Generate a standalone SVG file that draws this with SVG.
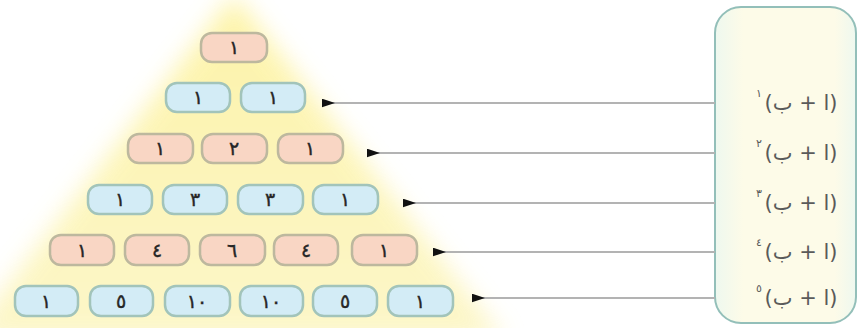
<svg xmlns="http://www.w3.org/2000/svg" width="859" height="328" viewBox="0 0 859 328">
  <style>
    .pill { stroke-width: 2.5; }
    .odd { fill: #f9d6c4; stroke: #bdb89e; }
    .even { fill: #d3ecf6; stroke: #a2c4ba; }
    .num { font-family: "DejaVu Sans", sans-serif; font-size: 19px; fill: #262626; text-anchor: middle; stroke: #262626; stroke-width: 0.4; }
    .lbl { font-family: "DejaVu Sans", sans-serif; font-size: 21px; fill: #5a5a5a; text-anchor: middle; letter-spacing: 1px; }
    .sup { font-family: "DejaVu Sans", sans-serif; font-size: 11px; fill: #5a5a5a; text-anchor: middle; }
    .conn { stroke: #b3b3b3; stroke-width: 2; fill: none; marker-end: url(#head); }
  </style>
  <defs>
    <marker id="head" viewBox="0 0 12 8" refX="12" refY="4" markerWidth="13" markerHeight="9" markerUnits="userSpaceOnUse" orient="auto">
      <path d="M0,4 L12,0 L12,8 Z" fill="#111"/>
    </marker>
    <linearGradient id="glow" x1="0" y1="0" x2="0" y2="1">
      <stop offset="0" stop-color="#fdf29a"/>
      <stop offset="1" stop-color="#fcf5c0"/>
    </linearGradient>
    <filter id="soft" x="-20%" y="-20%" width="140%" height="140%">
      <feGaussianBlur stdDeviation="12"/>
    </filter>
    <linearGradient id="boxfill" x1="0" y1="0" x2="1" y2="0">
      <stop offset="0" stop-color="#eef8ef"/>
      <stop offset="0.2" stop-color="#fdfbe8"/>
      <stop offset="0.85" stop-color="#fdfbe8"/>
      <stop offset="1" stop-color="#eef8ef"/>
    </linearGradient>
  </defs>

  <rect width="859" height="328" fill="#ffffff"/>

  <!-- soft yellow triangle behind the rows -->
  <polygon points="234,-5 505,340 -35,340" fill="url(#glow)" opacity="0.85" filter="url(#soft)"/>

  <!-- row 0 -->
  <g id="r0c0"><rect class="pill odd" x="201" y="33" width="66" height="29" rx="11"/><text class="num" x="234" y="54">١</text></g>

  <!-- row 1 -->
  <g id="r1c0"><rect class="pill even" x="166" y="83" width="64" height="29" rx="11"/><text class="num" x="198" y="104">١</text></g>
  <g id="r1c1"><rect class="pill even" x="241" y="83" width="64" height="29" rx="11"/><text class="num" x="273" y="104">١</text></g>

  <!-- row 2 -->
  <g id="r2c0"><rect class="pill odd" x="128" y="134" width="65" height="29" rx="11"/><text class="num" x="160" y="155">١</text></g>
  <g id="r2c1"><rect class="pill odd" x="202" y="134" width="65" height="29" rx="11"/><text class="num" x="234" y="155">٢</text></g>
  <g id="r2c2"><rect class="pill odd" x="278" y="134" width="65" height="29" rx="11"/><text class="num" x="310" y="155">١</text></g>

  <!-- row 3 -->
  <g id="r3c0"><rect class="pill even" x="88" y="185" width="64" height="29" rx="11"/><text class="num" x="120" y="206">١</text></g>
  <g id="r3c1"><rect class="pill even" x="163" y="185" width="64" height="29" rx="11"/><text class="num" x="195" y="206">٣</text></g>
  <g id="r3c2"><rect class="pill even" x="238" y="185" width="65" height="29" rx="11"/><text class="num" x="270" y="206">٣</text></g>
  <g id="r3c3"><rect class="pill even" x="313" y="185" width="65" height="29" rx="11"/><text class="num" x="345" y="206">١</text></g>

  <!-- row 4 -->
  <g id="r4c0"><rect class="pill odd" x="50" y="235" width="64" height="30" rx="11"/><text class="num" x="82" y="257">١</text></g>
  <g id="r4c1"><rect class="pill odd" x="125" y="235" width="64" height="30" rx="11"/><text class="num" x="157" y="257">٤</text></g>
  <g id="r4c2"><rect class="pill odd" x="200" y="235" width="65" height="30" rx="11"/><text class="num" x="232" y="257">٦</text></g>
  <g id="r4c3"><rect class="pill odd" x="274" y="235" width="64" height="30" rx="11"/><text class="num" x="306" y="257">٤</text></g>
  <g id="r4c4"><rect class="pill odd" x="352" y="235" width="65" height="30" rx="11"/><text class="num" x="384" y="257">١</text></g>

  <!-- row 5 -->
  <g id="r5c0"><rect class="pill even" x="15" y="286" width="63" height="30" rx="11"/><text class="num" x="46" y="308">١</text></g>
  <g id="r5c1"><rect class="pill even" x="90" y="286" width="63" height="30" rx="11"/><text class="num" x="121" y="308">٥</text></g>
  <g id="r5c2"><rect class="pill even" x="165" y="286" width="65" height="30" rx="11"/><text class="num" x="197" y="308">١٠</text></g>
  <g id="r5c3"><rect class="pill even" x="240" y="286" width="63" height="30" rx="11"/><text class="num" x="271" y="308">١٠</text></g>
  <g id="r5c4"><rect class="pill even" x="313" y="286" width="64" height="30" rx="11"/><text class="num" x="345" y="308">٥</text></g>
  <g id="r5c5"><rect class="pill even" x="388" y="286" width="65" height="30" rx="11"/><text class="num" x="420" y="308">١</text></g>

  <!-- expansion list -->
  <g id="powers">
    <rect x="715" y="7" width="141" height="316" rx="26" fill="url(#boxfill)" stroke="#93bfb9" stroke-width="2"/>
    <text class="lbl" x="801" y="110" direction="rtl">(ا + ب)</text><text class="sup" x="759" y="97">١</text>
    <text class="lbl" x="801" y="160" direction="rtl">(ا + ب)</text><text class="sup" x="759" y="147">٢</text>
    <text class="lbl" x="801" y="210" direction="rtl">(ا + ب)</text><text class="sup" x="759" y="197">٣</text>
    <text class="lbl" x="801" y="259" direction="rtl">(ا + ب)</text><text class="sup" x="759" y="246">٤</text>
    <text class="lbl" x="801" y="305" direction="rtl">(ا + ب)</text><text class="sup" x="759" y="292">٥</text>
  </g>

  <!-- connectors -->
  <g id="connectors">
    <line class="conn" x1="715" y1="103" x2="322" y2="103"/>
    <line class="conn" x1="715" y1="153" x2="367" y2="153"/>
    <line class="conn" x1="715" y1="203" x2="403" y2="203"/>
    <line class="conn" x1="715" y1="252" x2="433" y2="252"/>
    <line class="conn" x1="715" y1="298" x2="472" y2="298"/>
  </g>
</svg>
